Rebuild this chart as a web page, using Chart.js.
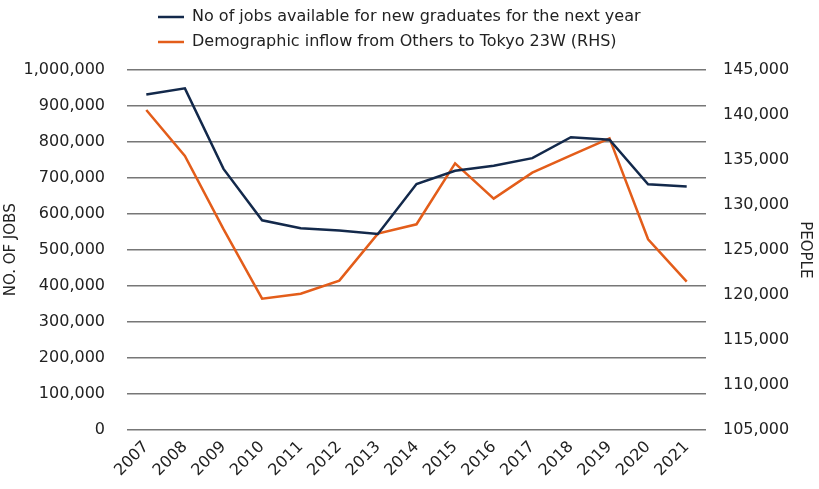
<!DOCTYPE html>
<html>
<head>
<meta charset="utf-8">
<script src="https://cdn.jsdelivr.net/npm/chart.js@4"></script>
<style>
  html, body { margin: 0; padding: 0; background: #fff; }
  #wrap { width: 819px; height: 489px; position: relative; }
</style>
</head>
<body>
<div id="wrap"><canvas id="chart"></canvas></div>
<script>
// ========================
// DATA
// ========================
const YEARS = ['2007','2008','2009','2010','2011','2012','2013','2014','2015','2016','2017','2018','2019','2020','2021'];
const JOBS = [932000, 949000, 725000, 582000, 560000, 554000, 544000, 683000, 720000, 734000, 755000, 813000, 806000, 682000, 676000];
const INFLOW = [140550, 135450, 127300, 119570, 120120, 121570, 126800, 127840, 134620, 130690, 133580, 135500, 137400, 126170, 121460];

const LABEL_JOBS = 'No of jobs available for new graduates for the next year';
const LABEL_INFLOW = 'Demographic inflow from Others to Tokyo 23W (RHS)';

const NAVY = '#13294b';
const ORANGE = '#e35d1a';
const FONT = 'DejaVu Sans';

Chart.defaults.font.family = FONT;
Chart.defaults.color = '#222';

const fmt = v => v.toLocaleString('en-US');

// legend rows: left-aligned, pulled up above the top padding
const legendShift = {
  id: 'legendShift',
  afterLayout(chart) {
    chart.legend.left = 149;
    chart.legend.top -= 10;
  }
};

new Chart(document.getElementById('chart'), {
  type: 'line',
  data: {
    labels: YEARS,
    datasets: [
      { label: LABEL_JOBS, data: JOBS, yAxisID: 'y', borderColor: NAVY, backgroundColor: NAVY,
        borderWidth: 2.5, pointRadius: 0, tension: 0 },
      { label: LABEL_INFLOW, data: INFLOW, yAxisID: 'y1', borderColor: ORANGE, backgroundColor: ORANGE,
        borderWidth: 2.5, pointRadius: 0, tension: 0 }
    ]
  },
  options: {
    responsive: true,
    maintainAspectRatio: false,
    animation: false,
    layout: { padding: { top: 10, right: 3, bottom: 1, left: 0 } },
    plugins: {
      legend: {
        position: 'top',
        align: 'start',
        labels: {
          usePointStyle: true,
          pointStyle: 'line',
          pointStyleWidth: 26,
          font: { size: 16 },
          color: '#222',
          padding: 9
        }
      },
      tooltip: { enabled: false }
    },
    scales: {
      x: {
        offset: true,
        grid: { display: false, drawTicks: false },
        border: { display: false },
        ticks: { minRotation: 45, maxRotation: 45, font: { size: 16 }, padding: 8 },
        afterFit(scale) { scale.paddingLeft = 0; scale.paddingRight = 0; }
      },
      y: {
        position: 'left',
        min: 0, max: 1000000,
        ticks: { stepSize: 100000, callback: fmt, font: { size: 16 }, padding: 22 },
        grid: { color: '#777', lineWidth: 1.6, drawTicks: false },
        border: { display: false },
        title: { display: true, text: 'NO. OF JOBS', font: { size: 15 }, padding: 2 },
        afterFit(scale) { scale.width = 127; }
      },
      y1: {
        position: 'right',
        min: 105000, max: 145000,
        ticks: { stepSize: 5000, callback: fmt, font: { size: 16 }, padding: 17 },
        grid: { display: false, drawTicks: false },
        border: { display: false },
        title: { display: true, text: 'PEOPLE', font: { size: 15 }, padding: 2 },
        afterFit(scale) { scale.width = 110; }
      }
    }
  },
  plugins: [legendShift]
});
</script>
</body>
</html>
